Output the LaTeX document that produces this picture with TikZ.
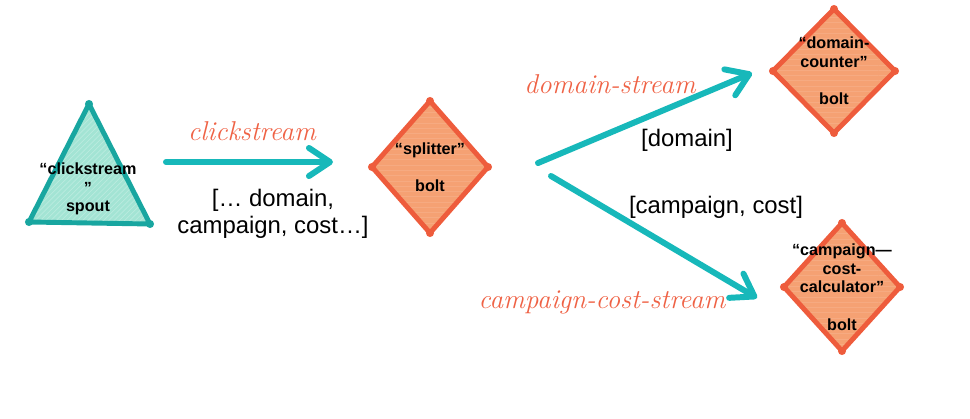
\documentclass[tikz,border=0pt]{standalone}
\usepackage{fontspec}
\usepackage{tikz}
\usetikzlibrary{arrows.meta,patterns}
\newfontfamily\labelfont{Liberation Sans}
\definecolor{streamteal}{HTML}{17B8BA}
\definecolor{spoutline}{HTML}{18A6A0}
\definecolor{spoutfill}{HTML}{A3E4D4}
\definecolor{boltline}{HTML}{EE5C3C}
\definecolor{boltfill}{HTML}{F5A173}
\definecolor{handred}{HTML}{EF6245}

\begin{document}
\begin{tikzpicture}[x=0.02cm,y=-0.02cm,
	stream/.style={draw=streamteal,line width=3.4pt,line cap=round,-{Straight Barb[length=12pt,width=16pt,round]}},
	spoutshape/.style={draw=spoutline,line width=2.8pt,line join=round,preaction={fill=spoutfill},preaction={pattern=north east lines,pattern color=spoutfill!75!white}},
	boltshape/.style={draw=boltline,line width=2.8pt,line join=round,preaction={fill=boltfill},preaction={pattern=horizontal lines,pattern color=boltfill!90!white}},
	inside/.style={font=\labelfont\bfseries\fontsize{9.2}{10.6}\selectfont,align=center,inner sep=0pt},
	fields/.style={font=\labelfont\fontsize{13.6}{15.3}\selectfont,align=center,inner sep=0pt},
	streamname/.style={font=\itshape\fontsize{15.5}{18}\selectfont,text=handred,inner sep=0pt}]
	\useasboundingbox (0,0) rectangle (970,419);

	\draw[spoutshape] (89,104) -- (150,224) -- (29,222) -- cycle;
	\foreach \x/\y in {89/104,150/224,29/222} {
		\fill[spoutline] (\x,\y) circle (2.3pt);
	}
	\foreach \x/\y/\w/\h in {430/167/58/66, 834/71/61/62, 842/287/58/64} {
		\draw[boltshape] (\x,\y-\h) -- (\x+\w,\y) -- (\x,\y+\h) -- (\x-\w,\y) -- cycle;
		\foreach \c in {(\x,\y-\h),(\x+\w,\y),(\x,\y+\h),(\x-\w,\y)}
			\fill[boltline] \c circle (2.3pt);
	}

	\node[inside] (spout) at (88,189) {“clickstream\\”\\spout};
	\node[inside] (splitter) at (430,167) {“splitter”\\[10.6pt]bolt};
	\node[inside] (counter) at (834,71) {“domain-\\counter”\\[10.6pt]bolt};
	\node[inside] (calculator) at (842,287) {“campaign—\\cost-\\calculator”\\[10.6pt]bolt};

	\coordinate (click_a) at (166,162);
	\coordinate (click_b) at (333,162);
	\coordinate (domain_a) at (538,163);
	\coordinate (domain_b) at (752,73);
	\coordinate (cost_a) at (551,176);
	\coordinate (cost_b) at (757,298);
	\draw[stream] (click_a) -- (click_b);
	\draw[stream] (domain_a) -- (domain_b);
	\draw[stream] (cost_a) -- (cost_b);

	\node[streamname] (click_name) at (252,131) {clickstream};
	\node[fields] (click_fields) at (273,214) {[… domain,\\campaign, cost…]};
	\node[streamname] (domain_name) at (610,84) {domain-stream};
	\node[fields] (domain_fields) at (687,140) {[domain]};
	\node[fields] (cost_fields) at (716,207) {[campaign, cost]};
	\node[streamname] (cost_name) at (602,302) {campaign-cost-stream};
\end{tikzpicture}
\end{document}
